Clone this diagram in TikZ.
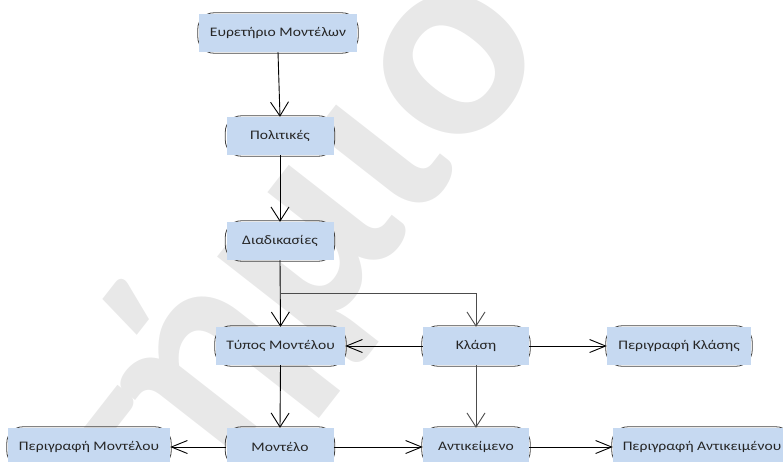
\documentclass[tikz,border=0pt]{standalone}
\usepackage{fontspec}
\setmainfont{Carlito}
\newfontfamily\boxfont[FakeStretch=1.2]{Carlito}
\newfontfamily\wmfont{Carlito}
\usetikzlibrary{arrows.meta}
\pgfdeclarelayer{watermark}
\pgfdeclarelayer{frames}
\pgfsetlayers{watermark,frames,main}
\definecolor{boxblue}{RGB}{198,217,241}
\definecolor{wmgray}{RGB}{232,232,232}
\tikzset{
  box/.style={fill=boxblue, minimum height=38pt, inner sep=0pt,
    font=\boxfont\fontsize{13}{15}\selectfont, text=black!85},
  frame/.style={draw=black!75, line width=0.8pt, rounded corners=16pt},
  link/.style={draw=black, line width=0.9pt},
  vtip/.style={-{Straight Barb[length=14pt,width=18pt]}},
  htip/.style={-{Straight Barb[length=16pt,width=13pt]}},
}
\begin{document}
\begin{tikzpicture}[x=1pt,y=1pt]
\useasboundingbox (0,0) rectangle (783,-461);
\clip (0,0) rectangle (783,-461);

% watermark behind everything
\begin{pgfonlayer}{watermark}
\node[rotate=52, anchor=base east, text=wmgray, inner sep=0pt,
  font=\wmfont\bfseries\fontsize{280}{280}\selectfont] (wm) at (554,-47) {Πανεπιστήμιο};
\end{pgfonlayer}

% boxes
\node[box, minimum width=158pt] (idx) at (278,-33)  {Ευρετήριο Μοντέλων};
\node[box, minimum width=107pt] (pol) at (280,-136) {Πολιτικές};
\node[box, minimum width=107pt] (dia) at (280,-241) {Διαδικασίες};
\node[box, minimum width=129pt] (typ) at (280.5,-346) {Τύπος Μοντέλου};
\node[box, minimum width=106pt] (kla) at (476,-346) {Κλάση};
\node[box, minimum width=144pt] (pkl) at (679,-346) {Περιγραφή Κλάσης};
\node[box, minimum width=162pt] (pmo) at (89,-447)  {Περιγραφή Μοντέλου};
\node[box, minimum width=107pt] (mon) at (280,-447) {Μοντέλο};
\node[box, minimum width=106pt] (ant) at (476,-447) {Αντικείμενο};
\node[box, minimum width=178pt] (pan) at (702,-447) {Περιγραφή Αντικειμένου};

% rounded frames peeking out behind the filled boxes
\begin{pgfonlayer}{frames}
\foreach \n in {idx,pol,dia,typ,kla,pkl,pmo,mon,ant,pan}
  \draw[frame] ([shift={(-1pt,1pt)}]\n.north west) rectangle ([shift={(1pt,-1pt)}]\n.south east);
\end{pgfonlayer}

% connectors
\coordinate (split) at (280,-293);
\draw[link, vtip] (idx.south) -- (pol.north);
\draw[link, vtip] (pol.south) -- (dia.north);
\draw[link, vtip] (dia.south) -- (typ.north);
\draw[link, vtip, draw=black!70] (split) -| (kla.north);
\draw[link, htip] (kla.west) -- (typ.east);
\draw[link, htip] (kla.east) -- (pkl.west);
\draw[link, vtip] (typ.south) -- (mon.north);
\draw[link, vtip, draw=black!70] (kla.south) -- (ant.north);
\draw[link, htip] (mon.west) -- (pmo.east);
\draw[link, htip] (mon.east) -- (ant.west);
\draw[link, htip] (ant.east) -- (pan.west);
\end{tikzpicture}
\end{document}
